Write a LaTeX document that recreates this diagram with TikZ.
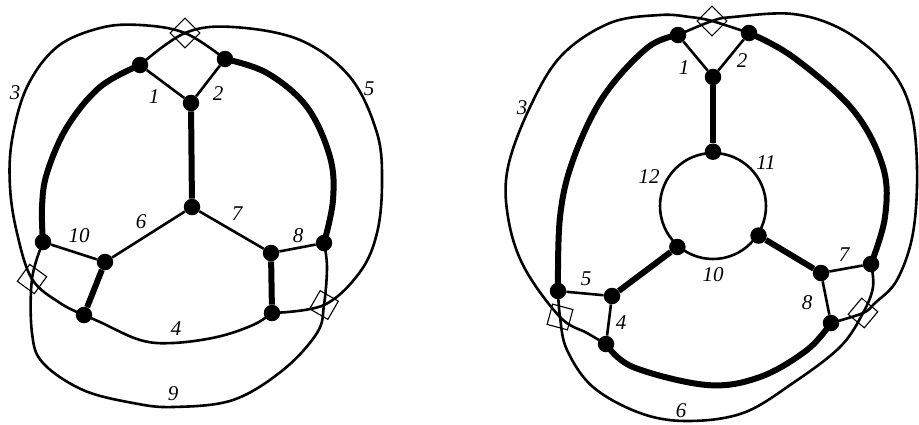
\documentclass[tikz,border=0pt]{standalone}
\usepackage{fontspec}
\setmainfont{Liberation Serif}
\begin{document}
\begin{tikzpicture}[x=1pt,y=-1pt,
  dot/.style={circle,fill=black,inner sep=0pt,minimum size=16.5pt},
  thinl/.style={line width=2.6pt},
  thickl/.style={line width=6pt},
  crossbox/.style={draw,line width=1.1pt,minimum size=21pt,inner sep=0pt},
  lab/.style={font=\fontsize{21}{21}\selectfont\itshape,inner sep=0pt},
  sm/.style={smooth,tension=0.6}]
\useasboundingbox (0,0) rectangle (919,424);
% ---------- left diagram ----------
\node[dot] (LA) at (140,65) {};
\node[dot] (LB) at (225,59) {};
\node[dot] (LC) at (191,103) {};
\node[dot] (LD) at (192,207) {};
\node[dot] (LE) at (43,242) {};
\node[dot] (LF) at (105,262) {};
\node[dot] (LG) at (84,315) {};
\node[dot] (LH) at (271,253) {};
\node[dot] (LI) at (324,243) {};
\node[dot] (LJ) at (272,313) {};
\node[crossbox,rotate=45] (Lt) at (185,33) {};
\node[crossbox,rotate=-36] (Ll) at (32,279) {};
\node[crossbox,rotate=-30] (Lr) at (324,305) {};
\draw[thinl] (LA) -- (LC);
\draw[thinl] (LB) -- (LC);
\draw[thickl] (LC) -- (LD);
\draw[thinl] (LD) -- (LF);
\draw[thinl] (LD) -- (LH);
\draw[thinl] (LE) -- (LF);
\draw[thinl] (LH) -- (LI);
\draw[thickl] (LF) -- (LG);
\draw[thickl] (LH) -- (LJ);
\draw[thinl] plot[sm] coordinates {(LA.center) (Lt.center) (233,27) (300,40) (350,77) (377,133) (382,183) (377,233) (360,272) (Lr.center) (LJ.center)};
\draw[thinl] plot[sm] coordinates {(LB.center) (Lt.center) (140,25) (100,28) (57,47) (27,87) (12,140) (10,187) (17,233) (Ll.center) (60,303) (LG.center)};
\draw[thinl] plot[sm] coordinates {(LE.center) (Ll.center) (32,333) (43,363) (83,390) (133,403) (173,407) (233,400) (283,370) (317,333) (Lr.center) (327,267) (LI.center)};
\draw[thinl] plot[sm] coordinates {(LG.center) (100,322) (140,340) (173,343) (217,337) (253,325) (LJ.center)};
\draw[thickl] plot[sm] coordinates {(LA.center) (100,87) (67,127) (47,173) (42,207) (LE.center)};
\draw[thickl] plot[sm] coordinates {(LB.center) (267,73) (307,107) (330,157) (333,200) (LI.center)};
\node[lab] (l3) at (15,93) {3};
\node[lab] (l1) at (154,97) {1};
\node[lab] (l2) at (218,94) {2};
\node[lab] (l5) at (369,89) {5};
\node[lab] (l6) at (141,222) {6};
\node[lab] (l7) at (237,214) {7};
\node[lab] (l10) at (79,236) {10};
\node[lab] (l8) at (298,236) {8};
\node[lab] (l4) at (176,329) {4};
\node[lab] (l9) at (173,394) {9};
% ---------- right diagram ----------
\node[draw,circle,line width=2.6pt,inner sep=0pt,minimum size=106pt] (Rc) at (713,206) {};
\node[dot] (RP1) at (678,35) {};
\node[dot] (RP2) at (749,33) {};
\node[dot] (RP3) at (713,77) {};
\node[dot] (RP4) at (Rc.north) {};
\node[dot] (RP5) at (Rc.229) {};
\node[dot] (RP6) at (Rc.327) {};
\node[dot] (RQ1) at (558,291) {};
\node[dot] (RQ2) at (612,296) {};
\node[dot] (RQ3) at (606,344) {};
\node[dot] (RR1) at (821,273) {};
\node[dot] (RR2) at (871,264) {};
\node[dot] (RR3) at (831,323) {};
\node[crossbox,rotate=45] (Rt) at (712,21) {};
\node[crossbox,rotate=-15] (Rl) at (560,317) {};
\node[crossbox,rotate=-40] (Rr) at (863,313) {};
\draw[thinl] (RP1) -- (RP3);
\draw[thinl] (RP2) -- (RP3);
\draw[thickl] (RP3) -- (RP4);
\draw[thickl] (RP5) -- (RQ2);
\draw[thickl] (RP6) -- (RR1);
\draw[thinl] (RQ1) -- (RQ2);
\draw[thinl] (RR1) -- (RR2);
\draw[thinl] (RQ2) -- (RQ3);
\draw[thinl] (RR1) -- (RR3);
\draw[thinl] plot[sm] coordinates {(RP1.center) (Rt.center) (733,17) (793,14) (843,30) (887,65) (910,107) (917,167) (913,233) (897,280) (875,303) (Rr.center) (RR3.center)};
\draw[thinl] plot[sm] coordinates {(RP2.center) (Rt.center) (690,17) (660,15) (610,23) (562,55) (531,105) (508,167) (508,217) (524,267) (Rl.center) (587,333) (RQ3.center)};
\draw[thinl] plot[sm] coordinates {(RQ1.center) (Rl.center) (567,350) (593,387) (640,413) (687,421) (743,413) (793,383) (840,347) (Rr.center) (873,287) (RR2.center)};
\draw[thickl] plot[sm] coordinates {(RQ3.center) (633,367) (707,385) (760,377) (807,350) (RR3.center)};
\draw[thickl] plot[sm] coordinates {(RP1.center) (647,48) (603,97) (573,160) (560,217) (RQ1.center)};
\draw[thickl] plot[sm] coordinates {(RP2.center) (793,57) (853,110) (883,167) (885,217) (RR2.center)};
\node[lab] (r3) at (522,108) {3};
\node[lab] (r1) at (684,68) {1};
\node[lab] (r2) at (742,61) {2};
\node[lab] (r9) at (925,103) {9};
\node[lab] (r11) at (766,163) {11};
\node[lab] (r12) at (649,177) {12};
\node[lab] (r10) at (713,275) {10};
\node[lab] (r5) at (586,279) {5};
\node[lab] (r7) at (844,255) {7};
\node[lab] (r8) at (807,303) {8};
\node[lab] (r4) at (621,323) {4};
\node[lab] (r6) at (681,411) {6};
\end{tikzpicture}
\end{document}
